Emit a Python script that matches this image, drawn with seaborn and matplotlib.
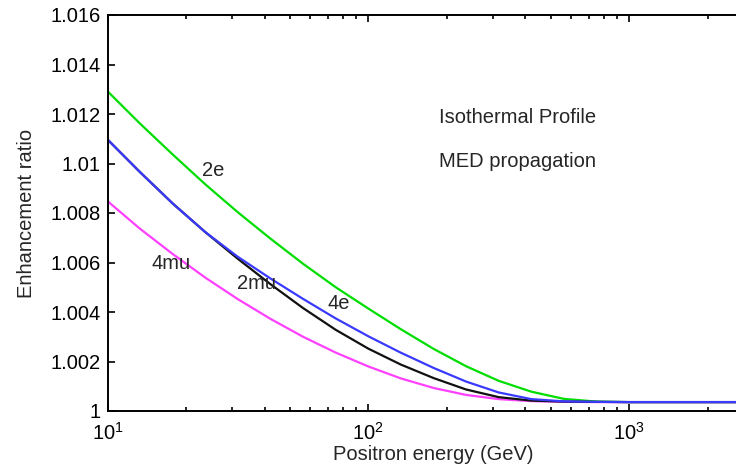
import numpy as np
import pandas as pd
import matplotlib
matplotlib.use('Agg')
import matplotlib.pyplot as plt
import matplotlib.ticker as mticker
import seaborn as sns

# --- data (ratio - 1, in units of 1e-5) ---
energy = [10, 13.3, 17.8, 23.7, 31.6, 42.2, 56.2, 75, 100, 133, 178, 237,
          316, 422, 562, 750, 1000, 3162]
excess_2e = [1292, 1162, 1036, 916, 803, 696, 595, 500, 414, 331, 251, 181,
             122, 78, 49, 38, 36, 36]
excess_4e = [1097, 966, 838, 723, 623, 535, 453, 374, 302, 236, 174, 119,
             75, 48, 39, 37, 36, 36]
excess_2mu = [1097, 966, 838, 723, 615, 512, 416, 328, 252, 188, 133, 87,
              56, 42, 38, 37, 36, 36]
excess_4mu = [848, 737, 634, 539, 452, 372, 300, 236, 180, 132, 93, 65,
              48, 40, 37, 36, 36, 36]
channels = ['2e', '4mu', '2mu', '4e']
colors = {'2e': '#00dd00', '4e': '#3a3aff', '2mu': '#111111', '4mu': '#ff40ff'}

series = {'2e': excess_2e, '4mu': excess_4mu, '2mu': excess_2mu, '4e': excess_4e}
df = pd.concat([
    pd.DataFrame({'energy': energy, 'ratio': 1 + np.array(v) * 1e-5, 'channel': k})
    for k, v in series.items()
])

sns.set_style('ticks')
plt.rcParams['font.family'] = ['Liberation Sans', 'DejaVu Sans']
plt.rcParams['mathtext.fontset'] = 'custom'
plt.rcParams['mathtext.rm'] = 'Liberation Sans'

fs = 14.5
fig = plt.figure(figsize=(7.36, 4.74), dpi=100)
# axes runs past the right edge like the cropped original
ax = fig.add_axes([107.5 / 736, 63 / 474, 652 / 736, 396 / 474])

sns.lineplot(data=df, x='energy', y='ratio', hue='channel', hue_order=channels,
             palette=colors, linewidth=1.6, legend=False, ax=ax)

ax.set_xscale('log')
ax.set_xlim(10, 10 ** 3.5)
ax.set_ylim(1.0, 1.016)
ax.set_yticks(np.arange(1.0, 1.0161, 0.002))
ax.yaxis.set_major_formatter(mticker.FuncFormatter(lambda v, p: '%g' % round(v, 3)))
ax.xaxis.set_major_locator(mticker.LogLocator(base=10))
ax.xaxis.set_minor_locator(mticker.LogLocator(base=10, subs=np.arange(2, 10)))
ax.xaxis.set_minor_formatter(mticker.NullFormatter())

ax.tick_params(which='both', direction='in', top=True, right=True, labelsize=fs, colors='black')
ax.tick_params(which='major', length=5, width=1.2)
ax.tick_params(which='minor', length=3, width=1.2)
ax.tick_params(axis='x', pad=8)
ax.tick_params(axis='y', pad=5)
for s in ax.spines.values():
    s.set_linewidth(1.4)
    s.set_color('black')

ax.set_xlabel('Positron energy (GeV)', fontsize=fs, labelpad=1)
ax.set_ylabel('Enhancement ratio', fontsize=fs, labelpad=10)

ax.text(23.0, 1.00948, '2e', fontsize=fs, va='baseline')
ax.text(14.8, 1.00573, '4mu', fontsize=fs, va='baseline')
ax.text(31.4, 1.00492, '2mu', fontsize=fs, va='baseline')
ax.text(69.7, 1.00411, '4e', fontsize=fs, va='baseline')
ax.text(187, 1.01165, 'Isothermal Profile', fontsize=fs, va='baseline')
ax.text(187, 1.00984, 'MED propagation', fontsize=fs, va='baseline')

fig.savefig('out.png', dpi=100)
